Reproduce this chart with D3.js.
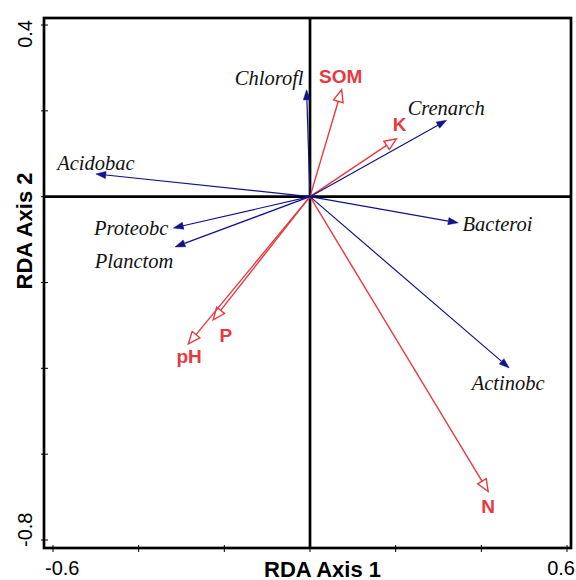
<!DOCTYPE html>
<html><head><meta charset="utf-8">
<script src="https://cdn.jsdelivr.net/npm/d3@7"></script>
<style>body{margin:0;background:#fff}</style>
</head><body>
<svg id="c" width="576" height="580"></svg>
<script>
// ---- data ----
const speciesNames = ["Chlorofl","Crenarch","Bacteroi","Actinobc","Acidobac","Proteobc","Planctom"];
const speciesX = [-0.008, 0.319, 0.346, 0.465, -0.500, -0.319, -0.315];
const speciesY = [0.249, 0.178, -0.061, -0.399, 0.053, -0.073, -0.117];
const envNames = ["SOM","K","P","pH","N"];
const envX = [0.074, 0.202, -0.226, -0.284, 0.416];
const envY = [0.249, 0.135, -0.287, -0.343, -0.687];
const xTicks = [-0.6,-0.4,-0.2,0,0.2,0.4,0.6];
const yTicks = [0.4,0.2,0,-0.2,-0.4,-0.6,-0.8];
const xTickLabels = ["-0.6","0.6"];
const yTickLabels = ["0.4","-0.8"];
const xTitle = "RDA Axis 1", yTitle = "RDA Axis 2";

// ---- layout (label placement relative to arrow tips, px) ----
const speciesLabelLayout = [
  {dx:-3, dy:-5, anchor:"end"},
  {dx:-39, dy:-5.7, anchor:"start"},
  {dx:4.4, dy:8.4, anchor:"start"},
  {dx:-1, dy:21.7, anchor:"middle"},
  {dx:-38.7, dy:-4.3, anchor:"start"},
  {dx:-5, dy:7.4, anchor:"end"},
  {dx:-1.7, dy:21, anchor:"end"}
];
const envLabelLayout = [
  {dx:-1, dy:-6.7},{dx:3, dy:-7.3},{dx:12.7, dy:21.7},{dx:0.7, dy:19.3},{dx:0, dy:21}
];

const L=44, R=571, T=18, B=548;
const x = d3.scaleLinear().domain([-0.6,0.6]).range([53,567]);
const y = d3.scaleLinear().domain([0.4,-0.8]).range([25,540]);
const svg = d3.select("#c");
const navy = "#12128a", red = "#e8393f";

// center cross
svg.append("line").attr("x1",L).attr("x2",R).attr("y1",y(0)).attr("y2",y(0))
  .attr("stroke","#000").attr("stroke-width",2.7);
svg.append("line").attr("x1",x(0)).attr("x2",x(0)).attr("y1",T).attr("y2",B)
  .attr("stroke","#000").attr("stroke-width",2.7);

// frame
svg.append("rect").attr("x",L).attr("y",T).attr("width",R-L).attr("height",B-T)
  .attr("fill","none").attr("stroke","#000").attr("stroke-width",2.7);

// ticks
svg.selectAll(".xt").data(xTicks).enter().append("line")
  .attr("x1",d=>x(d)).attr("x2",d=>x(d)).attr("y1",B-3).attr("y2",B+4)
  .attr("stroke","#000").attr("stroke-width",1);
svg.selectAll(".yt").data(yTicks).enter().append("line")
  .attr("y1",d=>y(d)).attr("y2",d=>y(d)).attr("x1",L-3).attr("x2",L+4)
  .attr("stroke","#000").attr("stroke-width",1);

// tick labels
const tf = "'Liberation Sans', Arial, sans-serif";
svg.append("text").text(xTickLabels[0]).attr("x",x(-0.6)-8).attr("y",575)
  .attr("text-anchor","start").attr("font-family",tf).attr("font-size",20);
svg.append("text").text(xTickLabels[1]).attr("x",x(0.6)+8).attr("y",575)
  .attr("text-anchor","end").attr("font-family",tf).attr("font-size",20);
svg.append("text").text(yTickLabels[0]).attr("transform",`translate(32,${y(0.4)-5}) rotate(-90)`)
  .attr("text-anchor","end").attr("font-family",tf).attr("font-size",20);
svg.append("text").text(yTickLabels[1]).attr("transform",`translate(32,${y(-0.8)+7}) rotate(-90)`)
  .attr("text-anchor","start").attr("font-family",tf).attr("font-size",20);

// axis titles
svg.append("text").text(xTitle).attr("x",322.5).attr("y",576.5).attr("text-anchor","middle")
  .attr("font-family",tf).attr("font-weight","bold").attr("font-size",22);
svg.append("text").text(yTitle).attr("transform",`translate(32,231) rotate(-90)`).attr("text-anchor","middle")
  .attr("font-family",tf).attr("font-weight","bold").attr("font-size",22);

function headPts(x0,y0,x1,y1,len,hw){
  const a=Math.atan2(y1-y0,x1-x0), c=Math.cos(a), s=Math.sin(a);
  const bx=x1-len*c, by=y1-len*s;
  return {bx,by,pts:[[x1,y1],[bx-hw*s,by+hw*c],[bx+hw*s,by-hw*c]]};
}
const ox=x(0), oy=y(0);

// env arrows (red, open heads)
envNames.forEach((n,i)=>{
  const tx=x(envX[i]), ty=y(envY[i]);
  const h=headPts(ox,oy,tx,ty,12,5);
  svg.append("line").attr("x1",ox).attr("y1",oy).attr("x2",h.bx).attr("y2",h.by)
    .attr("stroke",red).attr("stroke-width",1.4);
  svg.append("polygon").attr("points",h.pts.map(p=>p.join(",")).join(" "))
    .attr("fill","#fff").attr("stroke",red).attr("stroke-width",1.4);
});
// species arrows (navy, filled heads)
speciesNames.forEach((n,i)=>{
  const tx=x(speciesX[i]), ty=y(speciesY[i]);
  const h=headPts(ox,oy,tx,ty,10,3.6);
  svg.append("line").attr("x1",ox).attr("y1",oy).attr("x2",h.bx).attr("y2",h.by)
    .attr("stroke",navy).attr("stroke-width",1.2);
  svg.append("polygon").attr("points",h.pts.map(p=>p.join(",")).join(" "))
    .attr("fill",navy).attr("stroke",navy).attr("stroke-width",0.5);
});

// labels
speciesNames.forEach((n,i)=>{
  const l=speciesLabelLayout[i];
  svg.append("text").text(n).attr("x",x(speciesX[i])+l.dx).attr("y",y(speciesY[i])+l.dy)
    .attr("text-anchor",l.anchor).attr("font-family","'Liberation Serif','Times New Roman',serif")
    .attr("font-style","italic").attr("font-size",20.5).attr("fill","#111");
});
envNames.forEach((n,i)=>{
  const l=envLabelLayout[i];
  svg.append("text").text(n).attr("x",x(envX[i])+l.dx).attr("y",y(envY[i])+l.dy)
    .attr("text-anchor","middle").attr("font-family",tf).attr("font-weight","bold")
    .attr("font-size",19).attr("fill",red);
});
</script>
</body></html>
